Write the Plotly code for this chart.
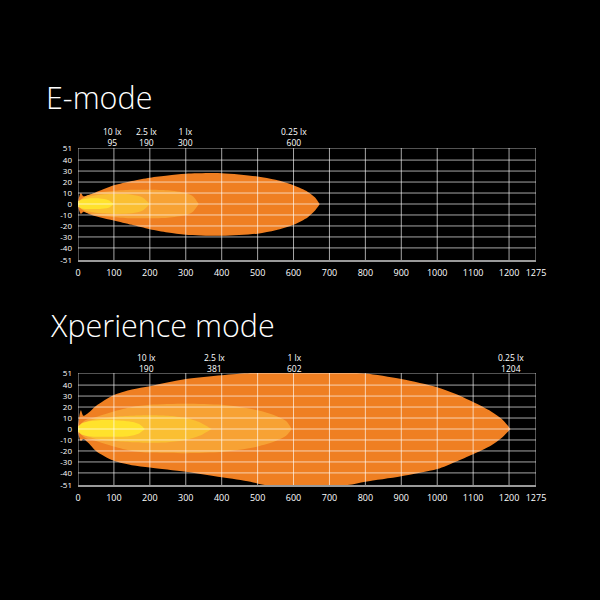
import plotly.graph_objects as go

# ---------------- data ----------------
x_ticks = [0, 100, 200, 300, 400, 500, 600, 700, 800, 900, 1000, 1100, 1200, 1275]
y_ticks = [-51, -40, -30, -20, -10, 0, 10, 20, 30, 40, 51]

# E-mode isolux zones: (x, upper y, lower y)
e_025_x = [0, 8, 15, 30, 60, 100, 150, 200, 250, 300, 400, 500, 550, 600, 640, 660, 673]
e_025_u = [2, 10, 7, 8, 12, 17, 21, 24, 26, 27.5, 28, 25, 22, 17, 11, 6, 0]
e_025_l = [-2, -9, -7, -9, -12, -15, -19, -23, -26, -28, -29, -27, -24, -19, -12, -6, 0]

e_1_x = [0, 20, 50, 100, 150, 200, 250, 300, 320, 336]
e_1_u = [2, 7, 10, 12, 13, 13, 12.5, 10, 7, 0]
e_1_l = [-2, -7, -10, -12, -13, -13, -12.5, -10, -7, 0]

e_25_x = [0, 20, 50, 100, 150, 180, 200]
e_25_u = [2, 6, 8, 9, 8.5, 6, 0]
e_25_l = [-2, -6, -8, -9, -8.5, -6, 0]

e_10_x = [0, 10, 30, 60, 85, 100]
e_10_u = [2, 4, 5, 5, 3.5, 0]
e_10_l = [-2, -4, -4.5, -4.5, -3.5, 0]

# Xperience mode isolux zones
x_025_x = [0, 8, 15, 30, 50, 100, 150, 200, 300, 400, 480, 520, 750, 800, 900, 1000, 1050, 1100, 1150, 1180, 1204]
x_025_u = [3, 17, 12, 15, 21, 31, 36, 39, 45.5, 49, 51, 51, 51, 50.5, 45.5, 38, 32, 24.5, 16, 9, 0]
x_025_l = [-3, -11, -9, -13, -20, -29, -33, -35, -39, -44, -48, -51, -51, -48, -43, -36.5, -30, -23, -15, -8, 0]

x_1_x = [0, 20, 50, 100, 150, 200, 300, 400, 450, 500, 550, 580, 595]
x_1_u = [2, 8, 11, 16, 20, 22, 23, 22, 20, 17, 12, 7, 0]
x_1_l = [-2, -8, -11, -16, -20, -21.5, -22, -21, -19, -16, -11, -6, 0]

x_25_x = [0, 20, 50, 100, 150, 200, 250, 300, 340, 372]
x_25_u = [2, 6, 9, 11, 12, 12.5, 12, 10, 6, 0]
x_25_l = [-2, -6, -9, -11, -12, -12.5, -12, -10, -6, 0]

x_10_x = [0, 10, 30, 60, 100, 140, 170, 186]
x_10_u = [2, 5, 7, 8, 8, 7, 4.5, 0]
x_10_l = [-2, -5, -6.5, -7, -7, -6.5, -4, 0]

e_labels = ["10 lx", "2.5 lx", "1 lx", "0.25 lx"]
e_label_vals = [95, 190, 300, 600]
x_labels = ["10 lx", "2.5 lx", "1 lx", "0.25 lx"]
x_label_vals = [190, 381, 602, 1204]

titles = ["E-mode", "Xperience mode"]

# ---------------- styling ----------------
C025 = "#EF7F22"
C1 = "#F7A234"
C25 = "#FABF32"
C10 = "#FFE22C"
W = 600
H = 600


def pxp(p):
    return p / W


def pyp(p):
    return 1 - p / H


X0, X1 = 78, 536
TOP = (148, 260)
BOT = (373, 485)


def polygon(xs, up, lo):
    px = list(xs) + list(reversed(xs))
    py = list(up) + list(reversed(lo))
    return px, py


fig = go.Figure()

zones_e = [(e_025_x, e_025_u, e_025_l, C025), (e_1_x, e_1_u, e_1_l, C1),
           (e_25_x, e_25_u, e_25_l, C25), (e_10_x, e_10_u, e_10_l, C10)]
zones_x = [(x_025_x, x_025_u, x_025_l, C025), (x_1_x, x_1_u, x_1_l, C1),
           (x_25_x, x_25_u, x_25_l, C25), (x_10_x, x_10_u, x_10_l, C10)]

for zones, xa, ya in [(zones_e, "x", "y"), (zones_x, "x2", "y2")]:
    for xs, up, lo, c in zones:
        px, py = polygon(xs, up, lo)
        fig.add_trace(go.Scatter(x=px, y=py, fill="toself", fillcolor=c, mode="lines",
                                 line=dict(width=0, color=c, shape="spline", smoothing=0.8),
                                 xaxis=xa, yaxis=ya, hoverinfo="skip", showlegend=False))

axis_common = dict(showgrid=False, zeroline=False, color="white",
                   ticks="", fixedrange=True, automargin=False)
xfont = dict(family="Open Sans", size=9, color="white")
yfont = dict(family="Open Sans", size=8, color="white")

xdom = [pxp(X0), pxp(X1)]
fig.update_layout(
    width=W, height=H, paper_bgcolor="black", plot_bgcolor="black",
    margin=dict(l=0, r=0, t=0, b=0, pad=0),
    xaxis=dict(domain=xdom, range=[0, 1275], tickvals=x_ticks, tickfont=xfont,
               ticktext=[str(v) for v in x_ticks], anchor="y", showline=True,
               linecolor="#9a9a9a", linewidth=2, ticklabelstandoff=3, **axis_common),
    yaxis=dict(domain=[pyp(TOP[1]), pyp(TOP[0])], range=[-51, 51], tickvals=y_ticks,
               tickfont=yfont, ticktext=[str(v) for v in y_ticks], anchor="x",
               showline=False, ticklabelstandoff=5, **axis_common),
    xaxis2=dict(domain=xdom, range=[0, 1275], tickvals=x_ticks, tickfont=xfont,
                ticktext=[str(v) for v in x_ticks], anchor="y2", showline=True,
                linecolor="#9a9a9a", linewidth=2, ticklabelstandoff=3, **axis_common),
    yaxis2=dict(domain=[pyp(BOT[1]), pyp(BOT[0])], range=[-51, 51], tickvals=y_ticks,
                tickfont=yfont, ticktext=[str(v) for v in y_ticks], anchor="x2",
                showline=False, ticklabelstandoff=5, **axis_common),
)

# grid drawn above the fills
grid = dict(color="rgba(255,255,255,0.65)", width=1)
for xr, yr in [("x", "y"), ("x2", "y2")]:
    for v in x_ticks:
        fig.add_shape(type="line", xref=xr, yref=yr, x0=v, x1=v, y0=-51, y1=51,
                      line=grid, layer="above")
    for v in y_ticks[1:]:
        fig.add_shape(type="line", xref=xr, yref=yr, x0=0, x1=1275, y0=v, y1=v,
                      line=grid, layer="above")

# lux labels above plots (two-line text)
lab_font = dict(family="Open Sans", size=8.5, color="white")
for labels, vals, xr, top in [(e_labels, e_label_vals, "x", TOP), (x_labels, x_label_vals, "x2", BOT)]:
    for lab, v in zip(labels, vals):
        fig.add_annotation(x=v, xref=xr, y=pyp(top[0] - 10.5), yref="paper",
                           text=f"{lab}<br>{v}", showarrow=False, xanchor="center",
                           yanchor="middle", align="center", font=lab_font)

# titles
for t, xl, mid in zip(titles, [44, 48], [97, 325]):
    fig.add_annotation(x=pxp(xl), xref="paper", y=pyp(mid), yref="paper",
                       text=t, showarrow=False, xanchor="left", yanchor="middle",
                       font=dict(family="Open Sans", size=30.5, color="white", weight=300))

fig.write_html("out.html", config={"displayModeBar": False},
               post_script="document.body.style.margin='0';document.body.style.overflow='hidden';")
